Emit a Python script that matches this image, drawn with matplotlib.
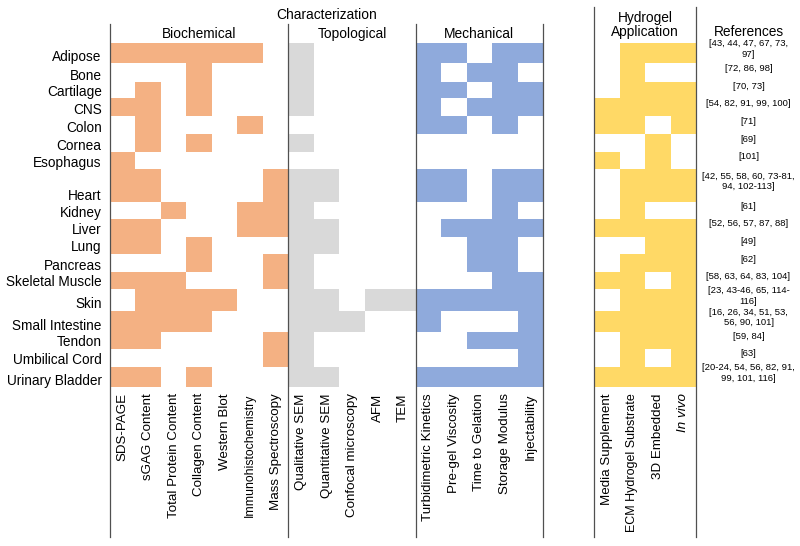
import numpy as np
import matplotlib
matplotlib.use("Agg")
import matplotlib.pyplot as plt
from matplotlib.colors import ListedColormap
from matplotlib.transforms import blended_transform_factory

plt.rcParams["font.family"] = ["Liberation Sans", "DejaVu Sans"]

# tissues (rows)
tissues = ["Adipose", "Bone", "Cartilage", "CNS", "Colon", "Cornea", "Esophagus",
           "Heart", "Kidney", "Liver", "Lung", "Pancreas", "Skeletal Muscle", "Skin",
           "Small Intestine", "Tendon", "Umbilical Cord", "Urinary Bladder"]

# column labels per group
biochem_labels = ["SDS-PAGE", "sGAG Content", "Total Protein Content", "Collagen Content",
                  "Western Blot", "Immunohistochemistry", "Mass Spectroscopy"]
topo_labels = ["Qualitative SEM", "Quantitative SEM", "Confocal microscopy", "AFM", "TEM"]
mech_labels = ["Turbidimetric Kinetics", "Pre-gel Viscosity", "Time to Gelation",
               "Storage Modulus", "Injectability"]
hydro_labels = ["Media Supplement", "ECM Hydrogel Substrate", "3D Embedded", "In vivo"]

# 1 = characterized / used
biochem = [
    [1, 1, 1, 1, 1, 1, 0],
    [0, 0, 0, 1, 0, 0, 0],
    [0, 1, 0, 1, 0, 0, 0],
    [1, 1, 0, 1, 0, 0, 0],
    [0, 1, 0, 0, 0, 1, 0],
    [0, 1, 0, 1, 0, 0, 0],
    [1, 0, 0, 0, 0, 0, 0],
    [1, 1, 0, 0, 0, 0, 1],
    [0, 0, 1, 0, 0, 1, 1],
    [1, 1, 0, 0, 0, 1, 1],
    [1, 1, 0, 1, 0, 0, 0],
    [0, 0, 0, 1, 0, 0, 1],
    [1, 1, 1, 0, 0, 0, 1],
    [0, 1, 1, 1, 1, 0, 0],
    [1, 1, 1, 1, 0, 0, 0],
    [1, 1, 0, 0, 0, 0, 1],
    [0, 0, 0, 0, 0, 0, 1],
    [1, 1, 0, 1, 0, 0, 0],
]
topo = [
    [1, 0, 0, 0, 0],
    [1, 0, 0, 0, 0],
    [1, 0, 0, 0, 0],
    [1, 0, 0, 0, 0],
    [0, 0, 0, 0, 0],
    [1, 0, 0, 0, 0],
    [0, 0, 0, 0, 0],
    [1, 1, 0, 0, 0],
    [1, 0, 0, 0, 0],
    [1, 1, 0, 0, 0],
    [1, 1, 0, 0, 0],
    [1, 0, 0, 0, 0],
    [1, 0, 0, 0, 0],
    [1, 1, 0, 1, 1],
    [1, 1, 1, 0, 0],
    [1, 0, 0, 0, 0],
    [1, 0, 0, 0, 0],
    [1, 1, 0, 0, 0],
]
mech = [
    [1, 1, 0, 1, 1],
    [1, 0, 1, 1, 0],
    [1, 1, 0, 1, 1],
    [1, 0, 1, 1, 1],
    [1, 1, 0, 1, 0],
    [0, 0, 0, 0, 0],
    [0, 0, 0, 0, 0],
    [1, 1, 0, 1, 1],
    [0, 0, 0, 1, 0],
    [0, 1, 1, 1, 1],
    [0, 0, 1, 1, 0],
    [0, 0, 1, 1, 0],
    [0, 0, 0, 1, 1],
    [1, 1, 1, 1, 1],
    [1, 0, 0, 0, 1],
    [0, 0, 1, 1, 1],
    [0, 0, 0, 0, 1],
    [1, 1, 1, 1, 1],
]
hydro = [
    [0, 1, 1, 1],
    [0, 1, 0, 0],
    [0, 1, 1, 1],
    [1, 1, 1, 1],
    [1, 1, 0, 1],
    [0, 0, 1, 0],
    [1, 0, 1, 0],
    [0, 1, 1, 1],
    [0, 1, 0, 0],
    [1, 1, 1, 1],
    [0, 0, 1, 1],
    [0, 1, 1, 1],
    [1, 1, 0, 1],
    [0, 1, 1, 1],
    [1, 1, 1, 1],
    [0, 1, 1, 1],
    [0, 1, 0, 1],
    [1, 1, 1, 1],
]

references = ["[43, 44, 47, 67, 73,\n97]", "[72, 86, 98]", "[70, 73]", "[54, 82, 91, 99, 100]",
              "[71]", "[69]", "[101]", "[42, 55, 58, 60, 73-81,\n94, 102-113]", "[61]",
              "[52, 56, 57, 87, 88]", "[49]", "[62]", "[58, 63, 64, 83, 104]",
              "[23, 43-46, 65, 114-\n116]", "[16, 26, 34, 51, 53,\n56, 90, 101]", "[59, 84]",
              "[63]", "[20-24, 54, 56, 82, 91,\n99, 101, 116]"]

# layout: row heights (rows are taller where references wrap)
row_heights = [20.6, 18.7, 16, 18, 18, 18, 17, 33, 17, 18, 17, 18, 17, 22, 21, 17, 18, 20]
y_edges = np.concatenate([[0], np.cumsum(row_heights)])

fig = plt.figure(figsize=(8, 5.46), dpi=100)
ax = fig.add_axes([0.1375, 1 - 387 / 546, 0.87 - 0.1375, (387 - 42.7) / 546])

groups = [
    (biochem, biochem_labels, "#F4B183", 0, "Biochemical"),
    (topo, topo_labels, "#D9D9D9", 7, "Topological"),
    (mech, mech_labels, "#8FAADC", 12, "Mechanical"),
    (hydro, hydro_labels, "#FFD966", 19, None),
]

tick_pos, tick_lab = [], []
for mat, labels, color, x0, title in groups:
    arr = np.array(mat, dtype=float)
    x_edges = x0 + np.arange(arr.shape[1] + 1)
    ax.pcolormesh(x_edges, y_edges, np.ma.masked_equal(arr, 0),
                  cmap=ListedColormap([color]), vmin=0, vmax=1)
    tick_pos += list(x0 + np.arange(arr.shape[1]) + 0.5)
    tick_lab += labels

ax.set_xlim(0, 23)
ax.set_ylim(y_edges[-1], 0)
for s in ax.spines.values():
    s.set_visible(False)

ax.set_xticks(tick_pos)
ax.set_xticklabels(tick_lab, rotation=90, fontsize=9.6)
for t in ax.get_xticklabels():
    if t.get_text() == "Immunohistochemistry":
        t.set_fontsize(8.8)
    if t.get_text() == "ECM Hydrogel Substrate":
        t.set_fontsize(9.0)
    if t.get_text() == "In vivo":
        t.set_fontstyle("italic")
ax.set_yticks(y_edges[1:] - 8)
ax.set_yticklabels(tissues, fontsize=9.8)
ax.tick_params(axis="x", length=0, pad=4.5)
ax.tick_params(axis="y", length=0, pad=6)

# divider lines
tr = blended_transform_factory(ax.transData, fig.transFigure)
for x in [0, 7, 12, 17]:
    ax.plot([x, x], [1 - 24 / 546, 1 - 537 / 546], transform=tr, clip_on=False,
            color="#505050", lw=0.9)
for x in [19, 23]:
    ax.plot([x, x], [1 - 7 / 546, 1 - 537 / 546], transform=tr, clip_on=False,
            color="#505050", lw=0.9)

# headers
ax.text(8.5, 1 - 15 / 546, "Characterization", transform=tr, ha="center", va="center", fontsize=9.9)
for mat, labels, color, x0, title in groups:
    if title:
        ax.text(x0 + len(labels) / 2, 1 - 34 / 546, title, transform=tr,
                ha="center", va="center", fontsize=9.9)
ax.text(21, 1 - 25 / 546, "Hydrogel\nApplication", transform=tr, ha="center",
        va="center", fontsize=9.9, linespacing=1.05)

tr2 = blended_transform_factory(fig.transFigure, ax.transData)
fig.text(748.5 / 800, 1 - 32 / 546, "References", ha="center", va="center", fontsize=9.9)
centers = (y_edges[:-1] + y_edges[1:]) / 2
for yc, ref in zip(centers, references):
    ax.text(748.5 / 800, yc - 4, ref, transform=tr2, ha="center", va="center",
            fontsize=6.8, linespacing=1.15)

fig.savefig("out.png", dpi=100)
